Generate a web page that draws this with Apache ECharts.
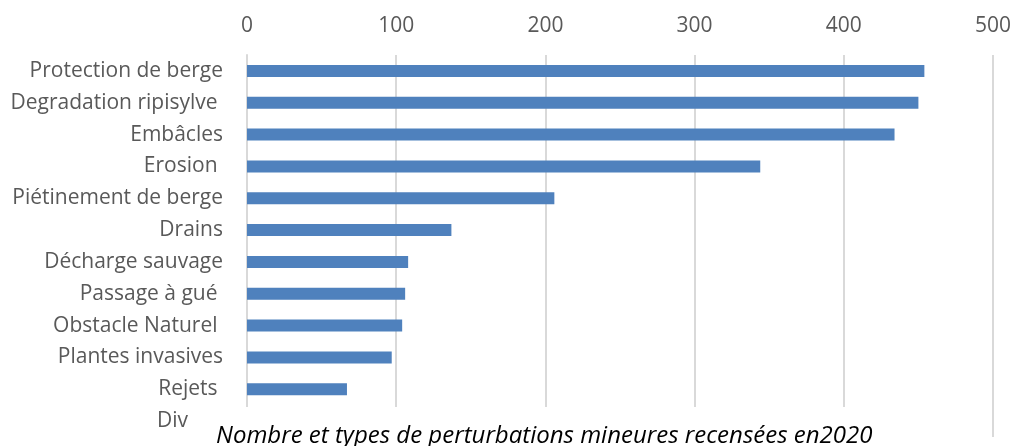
<!DOCTYPE html>
<html>
<head>
<meta charset="utf-8">
<script src="https://cdn.jsdelivr.net/npm/echarts@6/dist/echarts.min.js"></script>
<style>
  html, body { margin: 0; padding: 0; background: #fff; }
  #chart { width: 1015px; height: 446px; }
</style>
</head>
<body>
<div id="chart"></div>
<script>
// catégories (du haut vers le bas)
const categories = [
  "Protection de berge",
  "Degradation ripisylve ",
  "Embâcles",
  "Erosion ",
  "Piétinement de berge",
  "Drains",
  "Décharge sauvage",
  "Passage à gué ",
  "Obstacle Naturel ",
  "Plantes invasives",
  "Rejets ",
  "Div"
];
// nombre de perturbations (Div caché sous le titre)
const values = [454, 450, 434, 344, 206, 137, 108, 106, 104, 97, 67, 20];
const xTicks = [0, 100, 200, 300, 400, 500];

const chart = echarts.init(document.getElementById("chart"));
const option = {
  animation: false,
  backgroundColor: "#fff",
  title: {
    text: "Nombre et types de perturbations mineures recensées en2020",
    left: 190,
    top: 407,
    padding: [17, 26, 10, 26],
    backgroundColor: "#fff",
    textStyle: {
      fontFamily: "Open Sans",
      fontStyle: "italic",
      fontWeight: "normal",
      fontSize: 24,
      color: "#000"
    }
  },
  grid: {
    left: 247,
    right: 22,
    top: 55,
    bottom: 9,
    containLabel: false
  },
  xAxis: {
    type: "value",
    position: "top",
    min: xTicks[0],
    max: xTicks[xTicks.length - 1],
    interval: 100,
    axisLine: { show: false },
    axisTick: { show: false },
    axisLabel: {
      margin: 18,
      fontFamily: "Open Sans",
      fontSize: 21,
      color: "#595959"
    },
    splitLine: { lineStyle: { color: "#d9d9d9", width: 2 } }
  },
  yAxis: {
    type: "category",
    inverse: true,
    data: categories,
    axisLine: { show: true, lineStyle: { color: "#d9d9d9", width: 2 } },
    axisTick: { show: false },
    axisLabel: {
      margin: 24,
      fontFamily: "Open Sans",
      fontSize: 21,
      color: "#595959",
      formatter: (v) => (v === "Div" ? "{d|Div}" : v),
      rich: {
        d: { fontFamily: "Open Sans", fontSize: 21, color: "#595959", padding: [0, 35, 0, 0] }
      }
    }
  },
  series: [
    {
      type: "bar",
      data: values,
      barWidth: 12,
      itemStyle: { color: "#4f81bd" }
    }
  ]
};
chart.setOption(option);
</script>
</body>
</html>
